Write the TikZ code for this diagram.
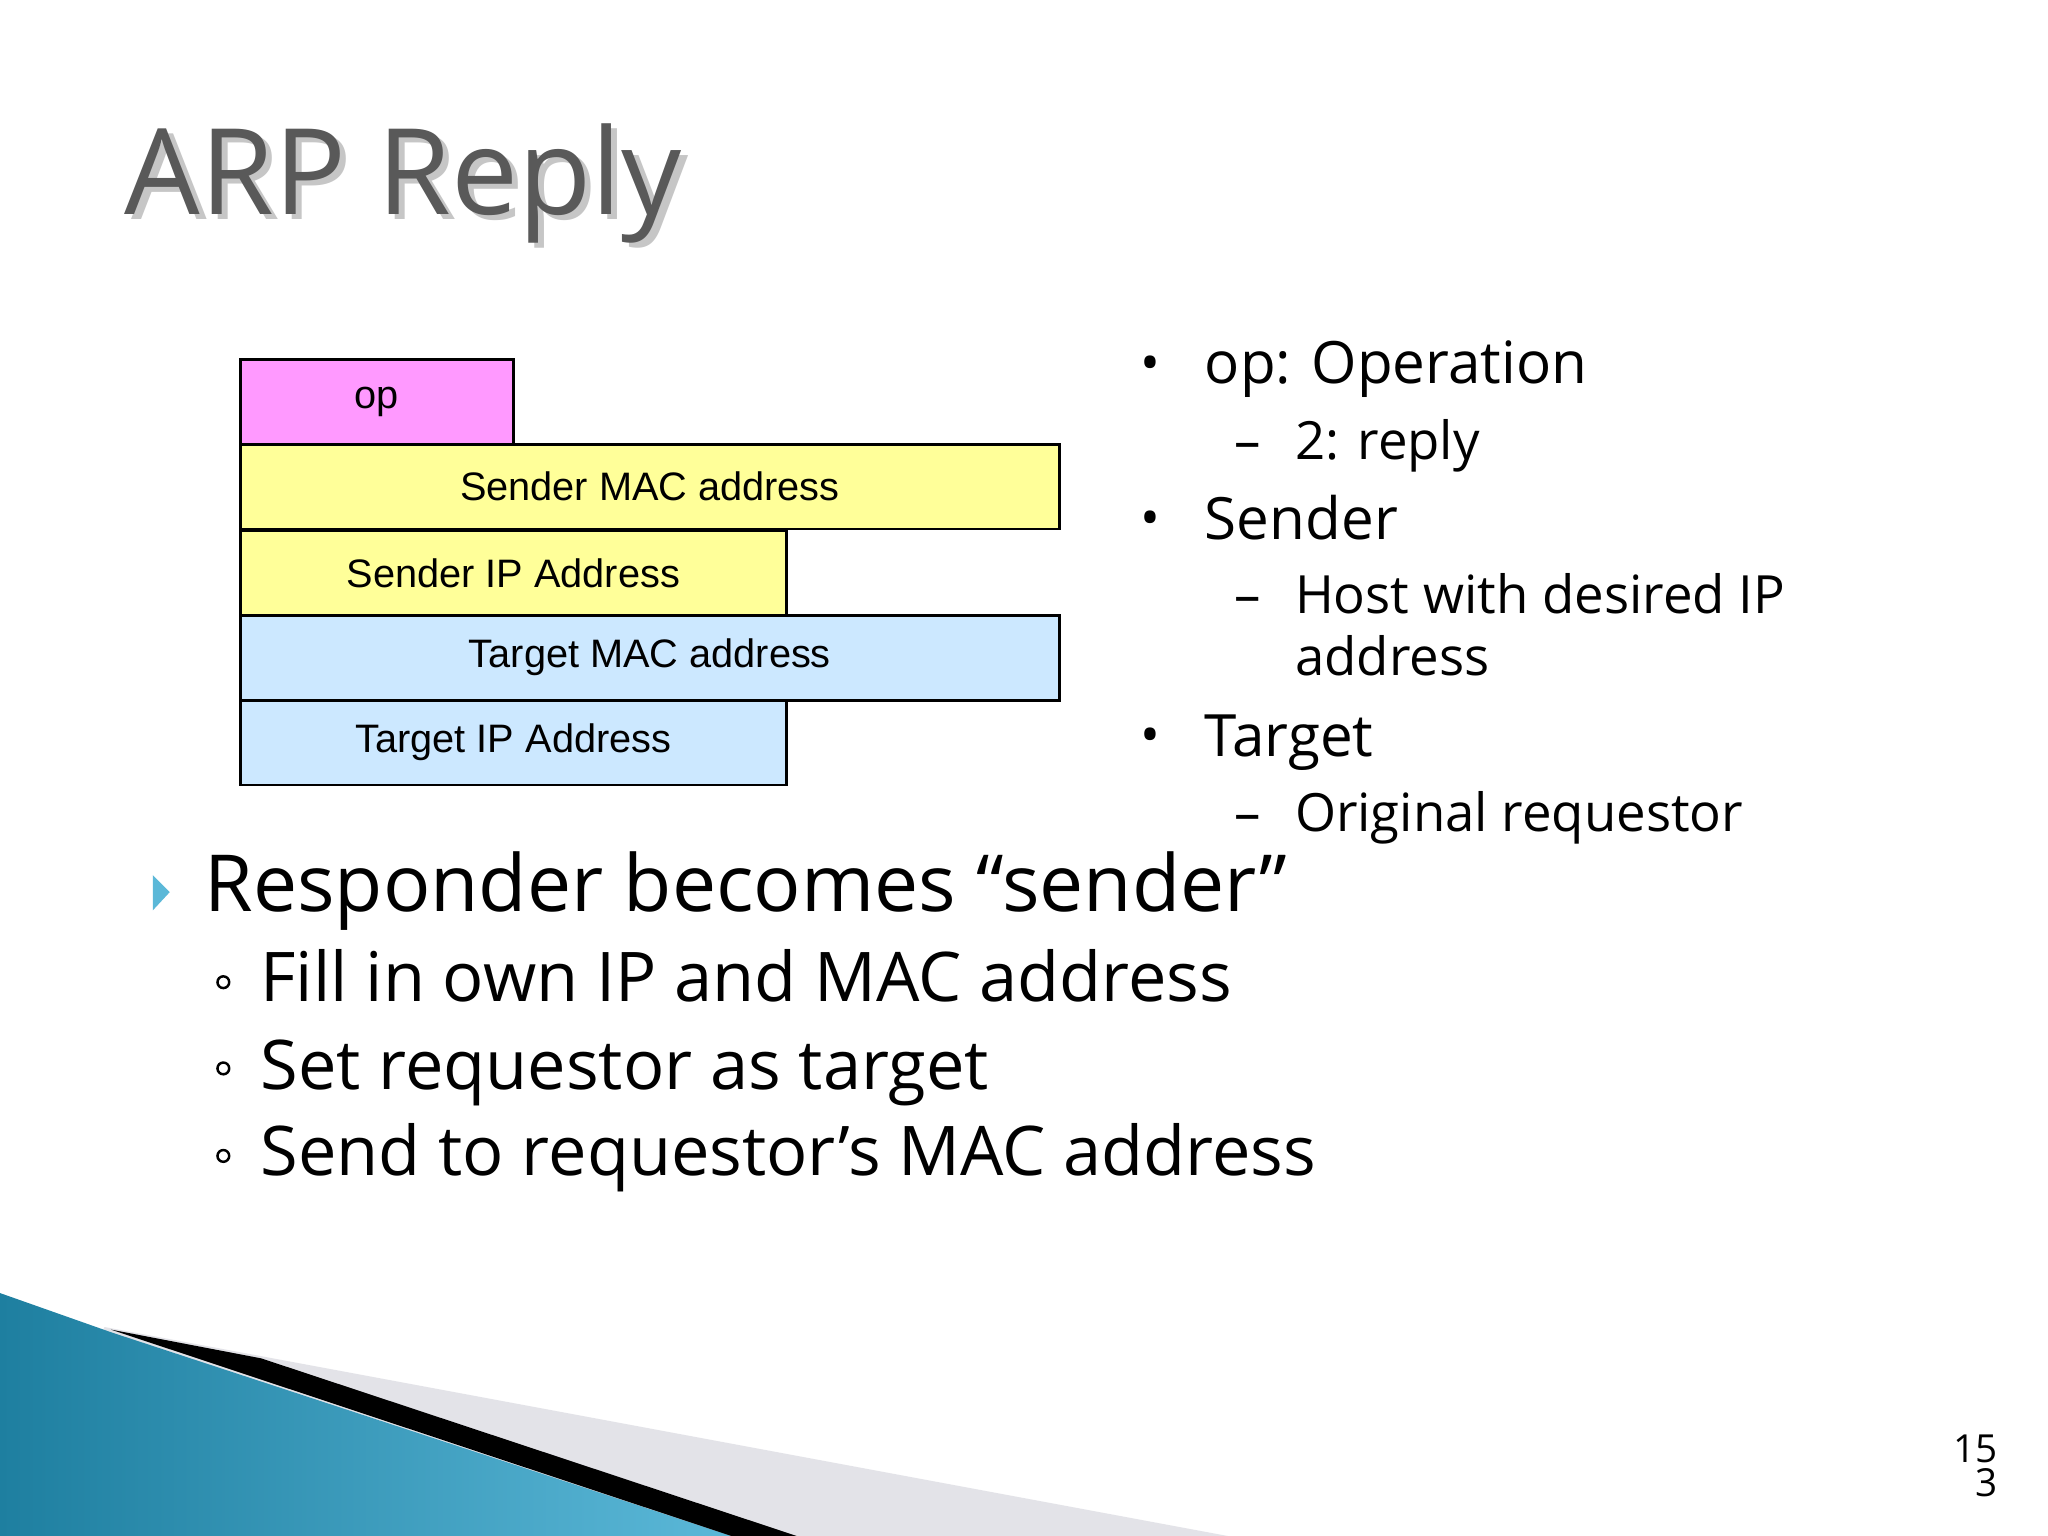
\documentclass[tikz,border=0pt]{standalone}
\usepackage{fontspec}
\setmainfont{Open Sans}
\newfontfamily\arial{Liberation Sans}
\definecolor{pinkf}{HTML}{FF99FF}
\definecolor{yelf}{HTML}{FFFF99}
\definecolor{bluf}{HTML}{CCE8FF}
\definecolor{teal1}{HTML}{1E7FA0}
\definecolor{teal2}{HTML}{5BB8D8}
\begin{document}
\begin{tikzpicture}[x=0.013061cm,y=-0.013061cm,
  fld/.style={draw=black,line width=0.8pt,anchor=north west,inner sep=0,minimum height=65*0.013061cm,font=\arial\fontsize{11.3}{13}\selectfont},
  rb/.style={anchor=base west,inner sep=0,font=\fontsize{16.6}{20}\selectfont},
  rs/.style={anchor=base west,inner sep=0,font=\fontsize{15}{18}\selectfont},
  mb/.style={anchor=base west,inner sep=0,font=\fontsize{22.4}{27}\selectfont},
  ms/.style={anchor=base west,inner sep=0,font=\fontsize{19.5}{24}\selectfont},
  ring/.style={circle,draw=black,line width=0.7pt,inner sep=0,minimum size=9*0.013061cm}]
\useasboundingbox (0,0) rectangle (1568,1176);
\fill[white] (0,0) rectangle (1568,1176);
% title
\node[anchor=base west,inner sep=0,text=gray!45,font=\fontsize{34}{38}\selectfont] (tsh) at (100,168) {ARP Reply};
\node[anchor=base west,inner sep=0,text=black!65,font=\fontsize{34}{38}\selectfont] (title) at (95,164) {ARP Reply};
% fields
\node[fld,fill=pinkf,minimum width=209*0.013061cm] (op) at (183,274) {op};
\node[fld,fill=yelf,minimum width=627*0.013061cm] (smac) at (183,339) {Sender MAC address};
\node[fld,fill=yelf,minimum width=418*0.013061cm] (sip) at (183,405) {Sender IP Address};
\node[fld,fill=bluf,minimum width=627*0.013061cm] (tmac) at (183,470) {Target MAC address};
\node[fld,fill=bluf,minimum width=418*0.013061cm] (tip) at (183,535) {Target IP Address};
% right bullets
\node[rs] (b1) at (873,292) {•};
\node[rb] (r1) at (922,294) {op: Operation};
\node[rs] (d1) at (945,352) {–};
\node[rs] (s1) at (991,352) {2: reply};
\node[rs] (b2) at (873,411) {•};
\node[rb] (r2) at (922,413) {Sender};
\node[rs] (d2) at (945,470) {–};
\node[rs] (s2) at (991,470) {Host with desired IP};
\node[rs] (s2b) at (991,517) {address};
\node[rs] (b3) at (873,577) {•};
\node[rb] (r3) at (922,579) {Target};
\node[rs] (d3) at (945,637) {–};
\node[rs] (s3) at (991,637) {Original requestor};
% main bullets
\fill[teal2] (117,670) -- (130,683) -- (117,697) -- cycle;
\node[mb] (m1) at (156,698) {Responder becomes “sender”};
\node[ring] (o1) at (171,752) {};
\node[ms] (t1) at (199,767) {Fill in own IP and MAC address};
\node[ring] (o2) at (171,818) {};
\node[ms] (t2) at (199,834) {Set requestor as target};
\node[ring] (o3) at (171,885) {};
\node[ms] (t3) at (199,900) {Send to requestor’s MAC address};
% page number
\node[anchor=base east,inner sep=0,font=\fontsize{11}{12}\selectfont] (pn) at (1530,1120) {15};
\node[anchor=base east,inner sep=0,font=\fontsize{11}{12}\selectfont] (pn2) at (1530,1146) {3};
% bottom decoration
\fill[blue!10!gray!20] (80,1016) -- (940,1176) -- (0,1176) -- cycle;
\shade[left color=teal1,right color=teal2] (0,990) -- (85,1020) -- (560,1176) -- (0,1176) -- cycle;
\fill[black] (85,1018) -- (200,1040) -- (610,1176) -- (560,1176) -- cycle;
\end{tikzpicture}
\end{document}
